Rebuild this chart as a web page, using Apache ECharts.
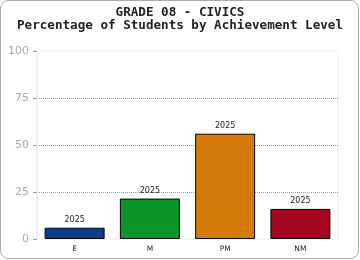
<!DOCTYPE html>
<html>
<head>
<meta charset="utf-8">
<script src="https://cdn.jsdelivr.net/npm/echarts@6/dist/echarts.min.js"></script>
<style>
  html, body { margin: 0; padding: 0; background: #fff; }
  #chart { width: 360px; height: 260px; }
</style>
</head>
<body>
<div id="chart"></div>
<script>
// achievement levels and percentages
const levels = ['E', 'M', 'PM', 'NM'];
const percents = [6, 21.5, 56, 16];
const barColors = ['#0a3d8c', '#0b9628', '#d67a07', '#a50621'];
const barLabel = '2025';
const yTicks = [0, 25, 50, 75, 100];

const chart = echarts.init(document.getElementById('chart'));

const option = {
  animation: false,
  backgroundColor: '#fff',
  graphic: [{
    type: 'rect',
    shape: { x: 0.5, y: 0.5, width: 358, height: 258, r: 8 },
    style: { fill: 'none', stroke: '#aaa', lineWidth: 1 },
    z: -1
  }],
  title: {
    text: 'GRADE 08 - CIVICS\nPercentage of Students by Achievement Level',
    left: 'center',
    top: 1,
    textStyle: {
      fontFamily: 'DejaVu Sans Mono',
      fontWeight: 'bold',
      fontSize: 12.6,
      lineHeight: 13,
      color: '#222'
    }
  },
  grid: {
    left: 37,
    right: 22,
    top: 51,
    bottom: 21,
    show: true,
    borderColor: '#eee',
    borderWidth: 1
  },
  xAxis: {
    type: 'category',
    data: levels,
    axisLine: { show: false },
    axisTick: { show: false },
    axisLabel: {
      fontFamily: 'DejaVu Sans',
      fontSize: 7.5,
      color: '#222',
      margin: 6
    }
  },
  yAxis: {
    type: 'value',
    min: 0,
    max: 100,
    interval: 25,
    axisLine: { show: true, lineStyle: { color: '#eee' } },
    axisTick: { show: true, length: 4, lineStyle: { color: '#999' } },
    axisLabel: {
      fontFamily: 'DejaVu Sans',
      fontSize: 11,
      color: '#aaa',
      margin: 8,
      formatter: v => yTicks.includes(v) ? String(v) : ''
    },
    splitLine: {
      show: true,
      lineStyle: {
        type: 'dotted',
        color: ['transparent', '#999', '#999', '#999', 'transparent']
      }
    }
  },
  series: [{
    type: 'bar',
    barWidth: 60,
    data: percents.map((v, i) => ({
      value: v,
      itemStyle: { color: barColors[i] }
    })),
    itemStyle: { borderColor: '#000', borderWidth: 1 },
    label: {
      show: true,
      position: 'top',
      distance: 4,
      formatter: () => barLabel,
      fontFamily: 'DejaVu Sans',
      fontSize: 8,
      color: '#222'
    }
  }]
};

chart.setOption(option);
</script>
</body>
</html>
